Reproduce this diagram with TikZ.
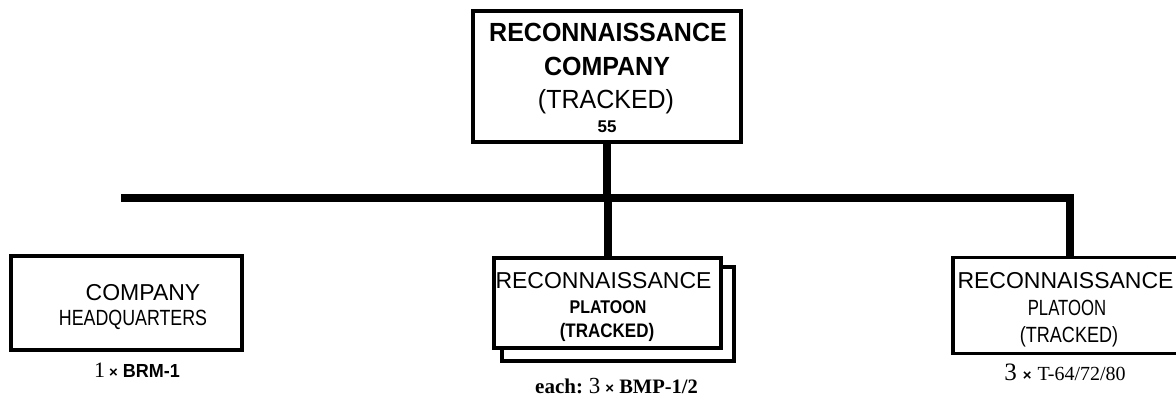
\documentclass[tikz,border=0pt]{standalone}
\usepackage{fontspec}
\usepackage{graphicx}
\setmainfont{Liberation Sans}
\newfontfamily\serifface{Liberation Serif}
\newcommand{\fsz}[1]{\fontsize{#1}{#1}\selectfont}
\begin{document}
\begin{tikzpicture}[x=1pt,y=-1pt,
  box/.style={draw=black,line width=3.5pt,fill=white,inner sep=0pt,minimum width=0pt},
  lbl/.style={inner sep=0pt,anchor=base},
  bar/.style={line width=7.5pt,line cap=butt,line join=miter}]
\useasboundingbox (0,0) rectangle (1176,402);
% boxes
\node[box,minimum width=268pt,minimum height=131pt] (top) at (607,76.5) {};
\node[box,minimum width=231pt,minimum height=94pt] (hq) at (126.5,303) {};
\node[box,minimum width=232pt,minimum height=94pt] (pltback) at (618,314) {};
\node[box,minimum width=227pt,minimum height=90pt] (plt) at (607.5,303) {};
\node[box,minimum width=226pt,minimum height=96pt] (tank) at (1066,305.5) {};
% connectors
\coordinate (hl) at (121,198);
\coordinate (hr) at (1070,198);
\draw[bar] (hl) -- (hr) -- (hr |- tank.north);
\draw[bar] (top.south) -- (top.south |- hl);
\draw[bar] (plt.north -| 608,0) -- (608,198);
% top box text
\node[lbl,font=\bfseries\fsz{25}] (t1) at (608,41) {\scalebox{1}[1.05]{RECONNAISSANCE}};
\node[lbl,font=\bfseries\fsz{25}] (t2) at (607,75) {\scalebox{1}[1.05]{COMPANY}};
\node[lbl,font=\fsz{25}] (t3) at (606,108) {\scalebox{1}[1.05]{(TRACKED)}};
\node[lbl,font=\bfseries\fsz{17}] (t4) at (607,132) {55};
% HQ text
\node[lbl,font=\fsz{23}] (h1) at (143,300) {COMPANY};
\node[lbl,font=\fsz{22}] (h2) at (133,325) {\scalebox{0.81}[1]{HEADQUARTERS}};
\node[lbl] (h3) at (137,377) {{\serifface\fsz{22}1}\hspace{4pt}{\bfseries\fsz{15}×}\hspace{5pt}{\bfseries\fsz{18}\scalebox{1}[1.05]{BRM-1}}};
% middle platoon text
\node[lbl,font=\fsz{23}] (p1) at (603.5,288) {RECONNAISSANCE};
\node[lbl,font=\bfseries\fsz{16}] (p2) at (608,313) {\scalebox{1}[1.15]{PLATOON}};
\node[lbl,font=\bfseries\fsz{17}] (p3) at (607,337) {\scalebox{1}[1.15]{(TRACKED)}};
\node[lbl] (p4) at (616.5,393) {{\serifface\bfseries\fsz{21}each:}\hspace{6pt}{\serifface\fsz{23}3}\hspace{5pt}{\bfseries\fsz{15}×}\hspace{5pt}{\serifface\bfseries\fsz{20.5}BMP-1/2}};
% right platoon text
\node[lbl,font=\fsz{23}] (r1) at (1065.5,288) {RECONNAISSANCE};
\node[lbl,font=\fsz{22}] (r2) at (1067,315) {\scalebox{0.76}[1]{PLATOON}};
\node[lbl,font=\fsz{22}] (r3) at (1069,342) {\scalebox{0.82}[1]{(TRACKED)}};
\node[lbl] (r4) at (1065,380) {{\serifface\fsz{25}3}\hspace{6pt}{\bfseries\fsz{15}×}\hspace{6pt}{\serifface\fsz{20}T-64/72/80}};
\end{tikzpicture}
\end{document}
